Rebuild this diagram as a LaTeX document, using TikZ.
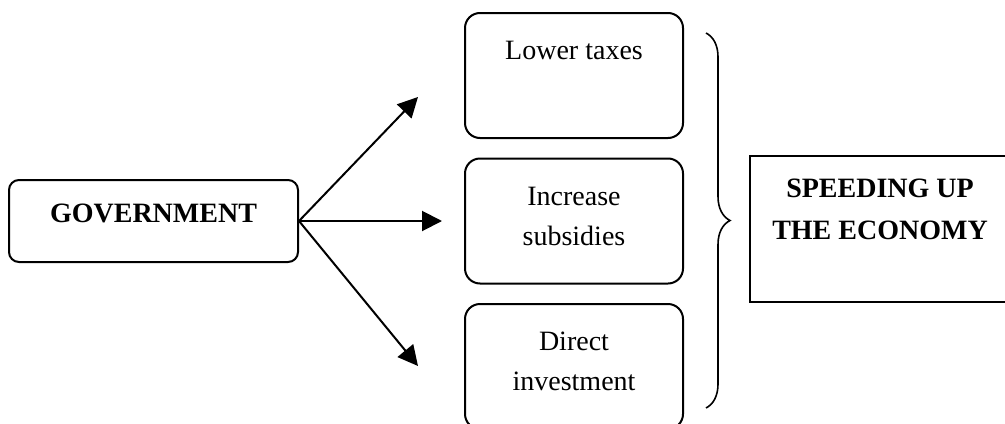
\documentclass[tikz,border=0pt]{standalone}
\usepackage{fontspec}
\setmainfont{Liberation Serif}
\usetikzlibrary{arrows.meta,positioning,decorations.pathreplacing}

\begin{document}
\begin{tikzpicture}[x=0.5pt,y=-0.5pt,
    govbox/.style={draw,line width=1pt,rounded corners=5pt,minimum width=144.5pt,
      minimum height=41pt,inner sep=0pt,font=\bfseries,text depth=8pt},
    choice/.style={draw,line width=1pt,rounded corners=7.5pt,minimum width=109pt,
      minimum height=62.5pt,inner sep=0pt,align=center,text depth=5pt},
    goal/.style={draw,line width=1.2pt,minimum width=130pt,minimum height=73pt,
      inner sep=0pt,align=center,font=\bfseries,text depth=20pt},
    arr/.style={line width=1pt,-{Triangle[length=10pt,width=10pt]}}]
    \useasboundingbox (0,0) rectangle (1005,423);
    \clip (0,0) rectangle (1005,423);
    \fontsize{14}{20}\selectfont

    \node[govbox] (gov) at (153.5,221) {GOVERNMENT};

    \node[choice,text depth=25pt] (taxes) at (574,75.5) {Lower taxes};
    \node[choice] (subsidies) at (574,221) {Increase\\subsidies};
    \node[choice] (invest) at (574,366.5) {Direct\\investment};

    \coordinate (tipA) at (418,97);
    \coordinate (tipB) at (442,221);
    \coordinate (tipC) at (418,366);
    \draw[arr] (gov.east) -- (tipA);
    \draw[arr] (gov.east) -- (tipB);
    \draw[arr] (gov.east) -- (tipC);

    \coordinate (braceTop) at (706,33);
    \coordinate (braceBot) at (706,408);
    \draw[line width=0.8pt,decorate,decoration={brace,amplitude=12pt}] (braceTop) -- (braceBot);

    \node[goal] (economy) at (880,229) {SPEEDING UP\\[1pt]THE ECONOMY};
  \end{tikzpicture}
\end{document}
